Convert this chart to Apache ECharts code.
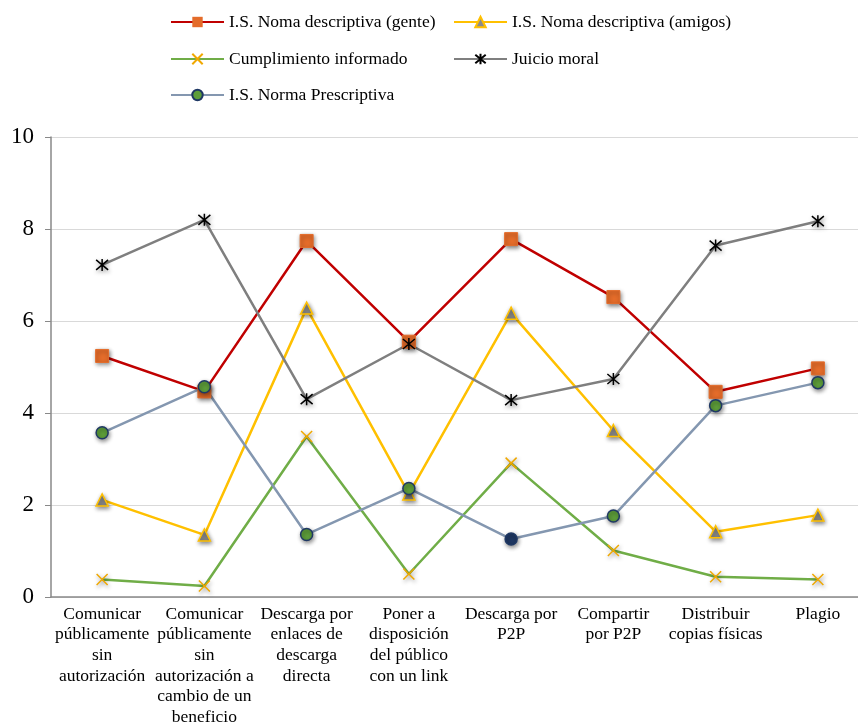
<!DOCTYPE html>
<html>
<head>
<meta charset="utf-8">
<script src="https://cdn.jsdelivr.net/npm/echarts@6/dist/echarts.min.js"></script>
<style>
  html, body { margin: 0; padding: 0; background: #fff; }
  #chart { width: 858px; height: 724px; }
</style>
</head>
<body>
<div id="chart"></div>
<script>
// Categories (line breaks follow the printed layout of each label)
var categories = [
  'Comunicar\npúblicamente\nsin\nautorización',
  'Comunicar\npúblicamente\nsin\nautorización a\ncambio de un\nbeneficio',
  'Descarga por\nenlaces de\ndescarga\ndirecta',
  'Poner a\ndisposición\ndel público\ncon un link',
  'Descarga por\nP2P',
  'Compartir\npor P2P',
  'Distribuir\ncopias físicas',
  'Plagio'
];

var seriesNames = [
  'I.S. Noma descriptiva (gente)',
  'I.S. Noma descriptiva (amigos)',
  'Cumplimiento informado',
  'Juicio moral',
  'I.S. Norma Prescriptiva'
];

var normaGente     = [5.24, 4.47, 7.74, 5.55, 7.78, 6.52, 4.46, 4.97];
var normaAmigos    = [2.11, 1.35, 6.28, 2.24, 6.17, 3.62, 1.42, 1.78];
var cumplimiento   = [0.38, 0.24, 3.49, 0.50, 2.91, 1.01, 0.44, 0.38];
var juicioMoral    = [7.22, 8.20, 4.30, 5.50, 4.28, 4.74, 7.64, 8.17];
var normaPrescrip  = [3.57, 4.57, 1.36, 2.36, 1.26, 1.76, 4.16, 4.66];

var yTicks = [0, 2, 4, 6, 8, 10];

var FONT = "'Palatino Linotype', 'Book Antiqua', Palatino, 'Liberation Serif', serif";
var shadow = { shadowBlur: 4, shadowColor: 'rgba(0,0,0,0.45)', shadowOffsetX: 1, shadowOffsetY: 2 };

var crossPath = 'path://M0 0 L10 10 M10 0 L0 10';
var starPath = 'path://M0 0 L10 10 M10 0 L0 10 M5 -1 L5 11';

// Prescriptive norm: one point drawn with a dark fill
var prescripData = normaPrescrip.map(function (v, i) {
  return i === 4 ? { value: v, itemStyle: { color: '#1F3864' } } : v;
});

function legendAt(name, left, top) {
  return {
    data: [name],
    left: left,
    top: top,
    padding: 0,
    itemWidth: 53,
    itemHeight: 13,
    textStyle: { fontFamily: FONT, fontSize: 17.5, color: '#000' }
  };
}

var option = {
  animation: false,
  backgroundColor: '#fff',
  legend: [
    legendAt(seriesNames[0], 170, 13),
    legendAt(seriesNames[1], 453, 13),
    legendAt(seriesNames[2], 170, 50),
    legendAt(seriesNames[3], 453, 50),
    legendAt(seriesNames[4], 170, 86)
  ],
  grid: { left: 51, right: -11, top: 137, bottom: 127, containLabel: false, outerBoundsMode: 'none' },
  xAxis: {
    type: 'category',
    data: categories,
    boundaryGap: true,
    axisLine: { show: true, lineStyle: { color: '#898989', width: 1.5 } },
    axisTick: { show: false },
    axisLabel: {
      interval: 0,
      margin: 7,
      fontFamily: FONT,
      fontSize: 17.5,
      lineHeight: 20.6,
      color: '#000',
      align: 'center'
    }
  },
  yAxis: {
    type: 'value',
    min: yTicks[0],
    max: yTicks[yTicks.length - 1],
    interval: 2,
    axisLine: { show: true, lineStyle: { color: '#898989', width: 1.5 } },
    axisTick: { show: true, length: 6, lineStyle: { color: '#898989' } },
    splitLine: { show: true, lineStyle: { color: '#D9D9D9', width: 1.2 } },
    axisLabel: { fontFamily: FONT, fontSize: 23, color: '#000', margin: 17 }
  },
  series: [
    {
      name: seriesNames[0], type: 'line', data: normaGente,
      symbol: 'rect', symbolSize: 13,
      lineStyle: { color: '#C00000', width: 2.5 },
      itemStyle: Object.assign({ color: '#E46C2A', borderColor: '#E46C2A' }, shadow)
    },
    {
      name: seriesNames[1], type: 'line', data: normaAmigos,
      symbol: 'triangle', symbolSize: 12,
      lineStyle: { color: '#FFC000', width: 2.5 },
      itemStyle: Object.assign({ color: '#8C8C8C', borderColor: '#FFC000', borderWidth: 1.5 }, shadow)
    },
    {
      name: seriesNames[2], type: 'line', data: cumplimiento,
      symbol: crossPath, symbolSize: 11,
      lineStyle: { color: '#70AD47', width: 2.5 },
      itemStyle: Object.assign({ color: '#F0A800', borderColor: '#F0A800', borderWidth: 1.5 }, shadow)
    },
    {
      name: seriesNames[3], type: 'line', data: juicioMoral,
      symbol: starPath, symbolSize: 12,
      lineStyle: { color: '#7F7F7F', width: 2.5 },
      itemStyle: Object.assign({ color: '#000', borderColor: '#000', borderWidth: 1.5 }, shadow)
    },
    {
      name: seriesNames[4], type: 'line', data: prescripData,
      symbol: 'circle', symbolSize: 12,
      lineStyle: { color: '#8497B0', width: 2.5 },
      itemStyle: Object.assign({ color: '#5E9E3A', borderColor: '#1F3864', borderWidth: 1.5 }, shadow)
    }
  ]
};

var chart = echarts.init(document.getElementById('chart'), null, { renderer: 'canvas' });
chart.setOption(option);
</script>
</body>
</html>
